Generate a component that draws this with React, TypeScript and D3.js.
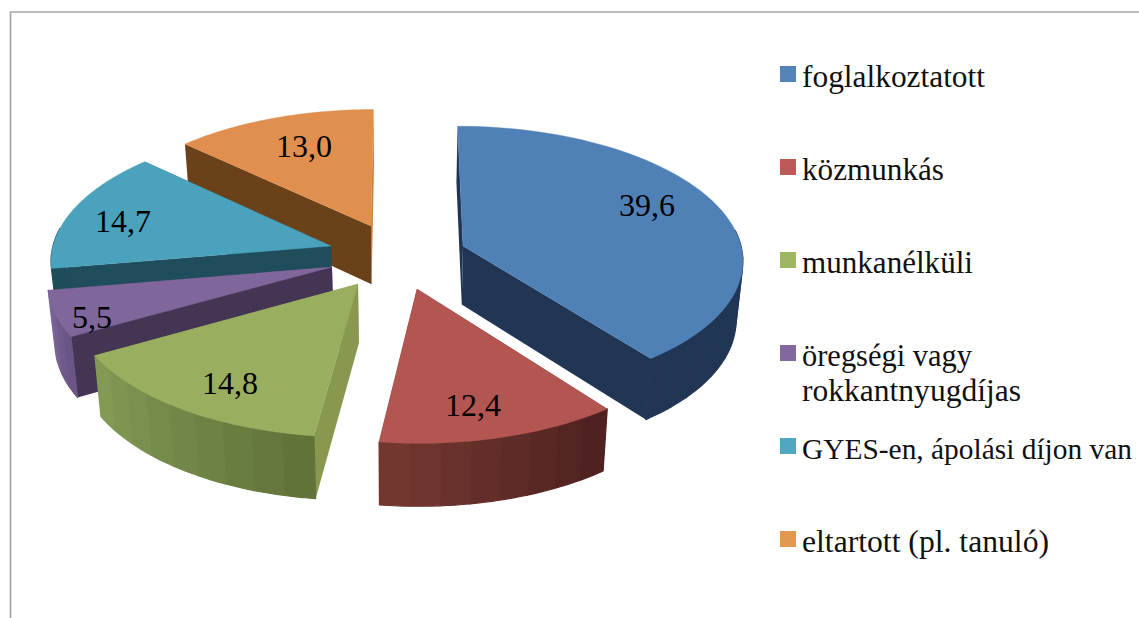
import React from "react";
import * as d3 from "d3";

// ---- data ----
const categories = ["foglalkoztatott", "közmunkás", "munkanélküli", "öregségi vagy rokkantnyugdíjas", "GYES-en, ápolási díjon van", "eltartott (pl. tanuló)"];
const values = [39.6, 12.4, 14.8, 5.5, 14.7, 13.0];
const valueLabels = ["39,6", "12,4", "14,8", "5,5", "14,7", "13,0"];

// ---- styles ----
const topColors = ["#5081b6", "#b35551", "#9aae5f", "#80679b", "#4aa2bc", "#e08f4f"];
const legendColors = ["#5383b8", "#bb5a56", "#9eb562", "#8567a0", "#4fa7c0", "#e39850"];
const sideColors = ["#203654", "#502220", "#88994f", "#443555", "#1f4d5b", "#6a4119"];
const wallHigh = ["#203654", "#723830", "#829a54", "#7c6598", "#1f4d5b", "#6a4119"]; // at the slice's late angle
const wallLow = ["#203654", "#4f2120", "#62733a", "#6a5585", "#1f4d5b", "#6a4119"]; // at its early angle
const endColors = ["#203654", "#502220", "#88994f", "#443555", "#1f4d5b", "#c27f3c"];

// ---- layout ----
const W = 1139, H = 618;
const X0 = 400, Y0 = 256, R = 280, T = 133, K = 0.095, DEPTH = 60, F = 0.98;
const apexes: [number, number][] = [[463, 246], [417, 289], [358, 284], [332, 267], [331, 246], [371, 226]];
const labelAnchors: [number, number][] = [[647, 216], [473, 416], [230, 394], [92, 328], [123, 232], [304, 157]];
const drawOrder = [5, 4, 3, 2, 1, 0];
const legendY = [74, 167, 260, 353, 446, 539];
const legendLines = [[categories[0]], [categories[1]], [categories[2]], ["öregségi vagy", "rokkantnyugdíjas"], [categories[4]], [categories[5]]];
const legendWidths = [[183], [142], [171], [170, 219], [330], [247]];
const legendFontSizes = [31, 31, 31, 31, 29.5, 31];
const FONT = "'Liberation Serif', serif";

// plane (u right, v towards viewer) -> screen, with d=0 top face, d=1 bottom face
const project = (u: number, v: number, d = 0): [number, number] => {
  const s = 1 / (1 - K * v);
  const f = d ? F : 1;
  return [X0 + u * R * s * f, Y0 + (v * T + d * DEPTH) * s * f];
};
const invert = ([x, y]: [number, number]): [number, number] => {
  const yr = y - Y0;
  const v = yr / (T + K * yr);
  const u = ((x - X0) * (1 - K * v)) / R;
  return [u, v];
};

const pieGen = d3.pie<number>().sort(null).startAngle(0).endAngle(2 * Math.PI);
const arcs = pieGen(values);
const line = d3.line();

export default function App() {
  const slices = drawOrder.map((i) => {
    const a = arcs[i];
    const [au, av] = invert(apexes[i]);
    const ring = (t: number, d = 0) => project(au + Math.sin(t), av - Math.cos(t), d);
    const angles = d3.range(0, 61).map((n) => a.startAngle + ((a.endAngle - a.startAngle) * n) / 60);
    const top = [project(au, av), ...angles.map((t) => ring(t))];
    const quad = (t: number) => [project(au, av), ring(t), ring(t, 1), project(au, av, 1)] as [number, number][];
    const stripStep = (6 * Math.PI) / 180;
    const nStrips = Math.max(1, Math.ceil((a.endAngle - a.startAngle) / stripStep));
    const colorAt = d3.interpolateRgb(wallLow[i], wallHigh[i]);
    const strips = d3.range(nStrips)
      .map((n) => {
        const t0 = a.startAngle + ((a.endAngle - a.startAngle) * n) / nStrips;
        const t1 = a.startAngle + ((a.endAngle - a.startAngle) * (n + 1)) / nStrips;
        const ts = d3.range(0, 5).map((k) => t0 + ((t1 - t0) * k) / 4);
        const pts = [...ts.map((t) => ring(t)), ...ts.slice().reverse().map((t) => ring(t, 1))];
        return { d: line(pts) + "Z", c: colorAt(nStrips > 1 ? n / (nStrips - 1) : 0), front: Math.cos((t0 + t1) / 2) < 0.15 };
      })
      .filter((w) => w.front);
    return { i, top: line(top) + "Z", startWall: line(quad(a.startAngle)) + "Z", endWall: line(quad(a.endAngle)) + "Z", strips };
  });

  return (
    <svg width={W} height={H} viewBox={`0 0 ${W} ${H}`} style={{ position: "absolute", left: 0, top: 0, background: "#fff" }}>
      <path d={`M${W},12H10.5V${H}`} fill="none" stroke="#a6a6a6" strokeWidth={1.7} />
      {slices.map((s) => (
        <g key={s.i}>
          <path d={s.endWall} fill={endColors[s.i]} />
          <path d={s.startWall} fill={sideColors[s.i]} />
          {s.strips.map((w, n) => (
            <path key={n} d={w.d} fill={w.c} stroke={w.c} strokeWidth={1.2} strokeLinejoin="round" />
          ))}
          <path d={s.top} fill={topColors[s.i]} stroke={topColors[s.i]} strokeWidth={0.4} />
        </g>
      ))}
      {slices.map((s) => (
        <text key={s.i} x={labelAnchors[s.i][0]} y={labelAnchors[s.i][1]} textAnchor="middle" fontFamily={FONT} fontSize={32} fill="#000">
          {valueLabels[s.i]}
        </text>
      ))}
      {legendLines.map((lines, i) => (
        <g key={i}>
          <rect x={780} y={legendY[i] - 8} width={16} height={16} fill={legendColors[i]} />
          {lines.map((l, j) => (
            <text key={j} x={802} y={legendY[i] + 13 + j * 35} fontFamily={FONT} fontSize={legendFontSizes[i]} fill="#111" textLength={legendWidths[i][j]} lengthAdjust="spacingAndGlyphs">
              {l}
            </text>
          ))}
        </g>
      ))}
    </svg>
  );
}
